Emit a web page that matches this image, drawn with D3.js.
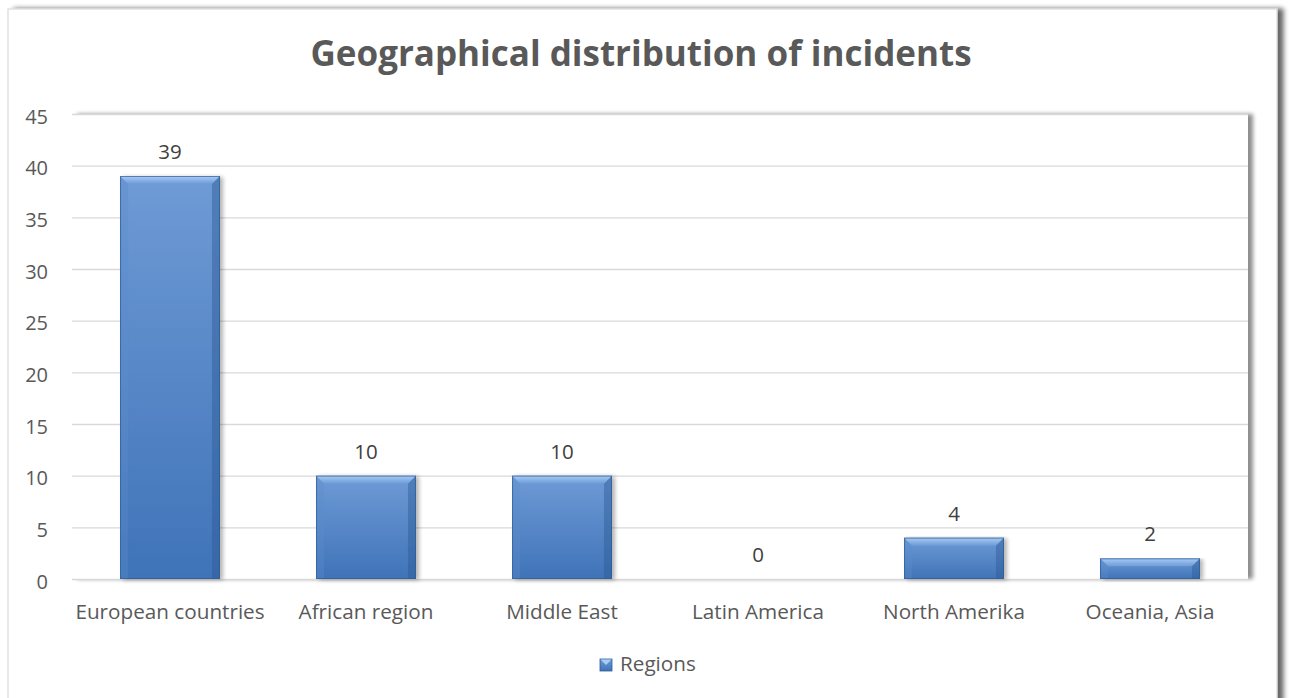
<!DOCTYPE html>
<html><head><meta charset="utf-8">
<script src="https://cdn.jsdelivr.net/npm/d3@7"></script>
<style>
html,body{margin:0;padding:0;background:#fff;}
svg{display:block;font-family:"Open Sans",sans-serif;}
</style></head>
<body>
<svg id="c" width="1289" height="698"></svg>
<script>
const categories = ["European countries","African region","Middle East","Latin America","North Amerika","Oceania, Asia"];
const values = [39,10,10,0,4,2];
const yTicks = [0,5,10,15,20,25,30,35,40,45];
const seriesName = "Regions";
const title = "Geographical distribution of incidents";

const FONT = "'Open Sans',sans-serif";
const svg = d3.select("#c");
const defs = svg.append("defs");

function shadow(id, dx, dy, std, slope){
  const f = defs.append("filter").attr("id",id).attr("x","-5%").attr("y","-5%").attr("width","112%").attr("height","115%");
  f.append("feGaussianBlur").attr("in","SourceAlpha").attr("stdDeviation",std).attr("result","b");
  f.append("feOffset").attr("in","b").attr("dx",dx).attr("dy",dy).attr("result","o");
  f.append("feComponentTransfer").attr("in","o").attr("result","o2").append("feFuncA").attr("type","linear").attr("slope",slope);
  const m = f.append("feMerge"); m.append("feMergeNode").attr("in","o2"); m.append("feMergeNode").attr("in","SourceGraphic");
}
shadow("shadow",6,0,2.5,0.6);
shadow("shadow2",5,0,2,0.45);
shadow("shadow3",3,1,2,0.3);

const g1 = defs.append("linearGradient").attr("id","barg").attr("x1",0).attr("x2",0).attr("y1",0).attr("y2",1);
g1.append("stop").attr("offset","0%").attr("stop-color","#6f9bd6");
g1.append("stop").attr("offset","100%").attr("stop-color","#3f73b8");
const g2 = defs.append("linearGradient").attr("id","bevel").attr("x1",0).attr("x2",0).attr("y1",0).attr("y2",1);
g2.append("stop").attr("offset","0%").attr("stop-color","#a9ccf3");
g2.append("stop").attr("offset","100%").attr("stop-color","#6d9bd8");

// outer chart area
svg.append("rect").attr("x",8).attr("y",9).attr("width",1269).attr("height",710)
  .attr("fill","#fff").attr("stroke","#d9d9d9").attr("stroke-width",1.2).attr("filter","url(#shadow)");

const margin = {left:72, top:114, right:1248, bottom:579};
const x = d3.scaleBand().domain(categories).range([margin.left, margin.right]).paddingInner(0.49).paddingOuter(0.245);
const y = d3.scaleLinear().domain([0,45]).range([margin.bottom, margin.top]);

// plot area
svg.append("rect").attr("x",margin.left).attr("y",margin.top).attr("width",margin.right-margin.left).attr("height",margin.bottom-margin.top)
  .attr("fill","#fff").attr("filter","url(#shadow2)");

// gridlines
svg.append("g").selectAll("line").data(yTicks).join("line")
  .attr("x1",margin.left).attr("x2",margin.right)
  .attr("y1",d=>y(d)+0.5).attr("y2",d=>y(d)+0.5)
  .attr("stroke","#d9d9d9").attr("stroke-width",1.3);

// y axis
const yAxis = svg.append("g").attr("transform",`translate(${margin.left-24},2)`)
  .call(d3.axisLeft(y).tickValues(yTicks).tickSize(0).tickPadding(0));
yAxis.select(".domain").remove();
yAxis.selectAll("text").attr("font-size",20).attr("fill","#595959").attr("font-family",FONT).attr("dy","0.36em");

// x axis
const xAxis = svg.append("g").attr("transform",`translate(0,${margin.bottom+25})`)
  .call(d3.axisBottom(x).tickSize(0).tickPadding(0));
xAxis.select(".domain").remove();
xAxis.selectAll("text").attr("font-size",20.7).attr("fill","#595959").attr("font-family",FONT).attr("dy","0.71em");

// bars
const data = categories.map((c,i)=>({c,v:values[i]}));
const bars = svg.append("g").selectAll("g").data(data).join("g").attr("filter","url(#shadow3)");
bars.each(function(d){
  if(d.v<=0) return;
  const g = d3.select(this);
  const x0 = x(d.c), w = x.bandwidth(), y0 = y(d.v), h = y(0)-y(d.v);
  const b = Math.min(8, h/2);
  g.append("rect").attr("x",x0).attr("y",y0).attr("width",w).attr("height",h).attr("fill","url(#barg)");
  g.append("path").attr("d",`M${x0},${y0}L${x0+w},${y0}L${x0+w-b},${y0+b}L${x0+b},${y0+b}Z`).attr("fill","url(#bevel)");
  g.append("path").attr("d",`M${x0},${y0}L${x0+b},${y0+b}L${x0+b},${y0+h}L${x0},${y0+h}Z`).attr("fill","#5b8bcb").attr("opacity",0.35);
  g.append("path").attr("d",`M${x0+w},${y0}L${x0+w-b},${y0+b}L${x0+w-b},${y0+h}L${x0+w},${y0+h}Z`).attr("fill","#2c5a94").attr("opacity",0.45);
  g.append("rect").attr("x",x0+0.5).attr("y",y0+0.5).attr("width",w-1).attr("height",h-1).attr("fill","none").attr("stroke","#2f5c96").attr("stroke-width",1).attr("opacity",0.7);
});

// data labels
svg.append("g").selectAll("text").data(data).join("text")
  .attr("x",d=>x(d.c)+x.bandwidth()/2).attr("y",d=>y(d.v)-17)
  .attr("text-anchor","middle").attr("font-size",20.5).attr("fill","#404040").attr("font-family",FONT).text(d=>d.v);

// title
svg.append("text").attr("x",641).attr("y",66).attr("text-anchor","middle").attr("font-family",FONT)
  .attr("font-size",35).attr("font-weight","bold").attr("fill","#595959").text(title);

// legend
const lg = svg.append("g").attr("transform","translate(600,659)");
lg.append("rect").attr("x",0).attr("y",0).attr("width",12).attr("height",12).attr("fill","url(#barg)").attr("stroke","#2f5c96").attr("stroke-width",0.8);
lg.append("path").attr("d","M0.5,0.5L11.5,0.5L6,6Z").attr("fill","#a9ccf3");
lg.append("text").attr("x",20).attr("y",12).attr("font-size",20.7).attr("fill","#595959").attr("font-family",FONT).text(seriesName);
</script>
</body></html>
